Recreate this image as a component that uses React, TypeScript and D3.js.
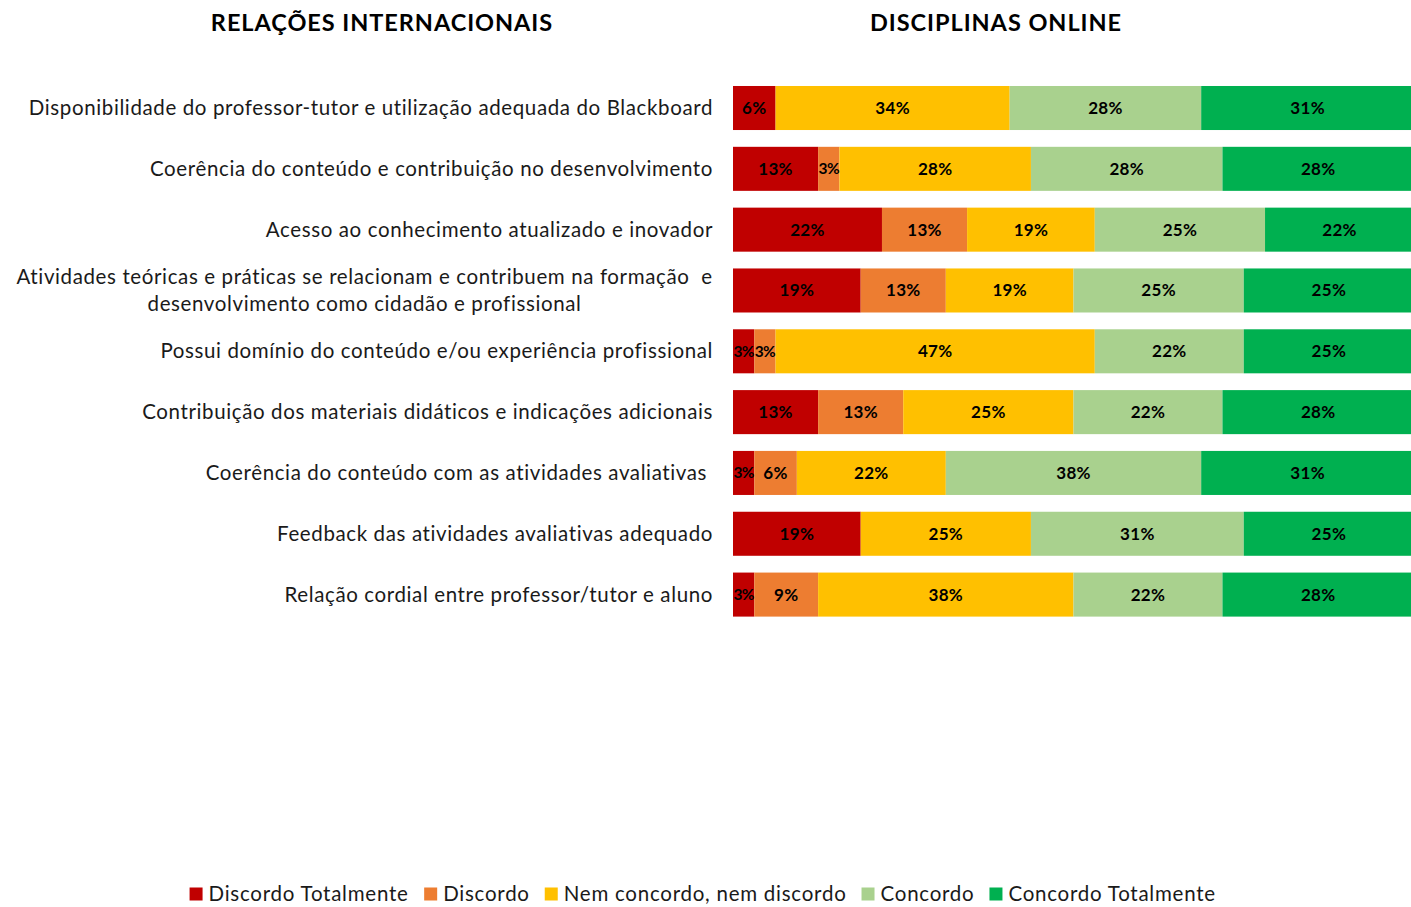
import React from "react";
import * as d3 from "d3";

const categories = [
  "Disponibilidade do professor-tutor e utilização adequada do Blackboard",
  "Coerência do conteúdo e contribuição no desenvolvimento",
  "Acesso ao conhecimento atualizado e inovador",
  "Atividades teóricas e práticas se relacionam e contribuem na formação  e|desenvolvimento como cidadão e profissional",
  "Possui domínio do conteúdo e/ou experiência profissional",
  "Contribuição dos materiais didáticos e indicações adicionais",
  "Coerência do conteúdo com as atividades avaliativas ",
  "Feedback das atividades avaliativas adequado",
  "Relação cordial entre professor/tutor e aluno",
];

const seriesNames = [
  "Discordo Totalmente",
  "Discordo",
  "Nem concordo, nem discordo",
  "Concordo",
  "Concordo Totalmente",
];

const discordoTotalmente = [6.25, 12.5, 21.875, 18.75, 3.125, 12.5, 3.125, 18.75, 3.125];
const discordo = [0, 3.125, 12.5, 12.5, 3.125, 12.5, 6.25, 0, 9.375];
const nemConcordoNemDiscordo = [34.375, 28.125, 18.75, 18.75, 46.875, 25, 21.875, 25, 37.5];
const concordo = [28.125, 28.125, 25, 25, 21.875, 21.875, 37.5, 31.25, 21.875];
const concordoTotalmente = [31.25, 28.125, 21.875, 25, 25, 28.125, 31.25, 25, 28.125];

const colors = ["#C00000", "#ED7D31", "#FFC000", "#A9D18E", "#00B050"];

const W = 1411;
const H = 907;
const FONT = "Lato, 'Open Sans', sans-serif";

let ctx: CanvasRenderingContext2D | null = null;
function measure(text: string, font: string, ls: number): number {
  if (!ctx) ctx = document.createElement("canvas").getContext("2d");
  if (!ctx) return text.length * 9;
  ctx.font = font;
  return ctx.measureText(text).width + ls * text.length;
}

export default function App() {
  const table = categories.map((c, i) => ({
    cat: c,
    [seriesNames[0]]: discordoTotalmente[i],
    [seriesNames[1]]: discordo[i],
    [seriesNames[2]]: nemConcordoNemDiscordo[i],
    [seriesNames[3]]: concordo[i],
    [seriesNames[4]]: concordoTotalmente[i],
  }));
  const stack = d3.stack<any>().keys(seriesNames)(table as any);

  const x = d3.scaleLinear().domain([0, 100]).range([733, 1414]);
  const y = d3
    .scaleBand<string>()
    .domain(categories)
    .range([77.6, 625])
    .paddingInner(0.276)
    .paddingOuter(0.138);
  const bw = y.bandwidth();

  const catFontSize = 20.5;
  const catLS = 0.62;
  const catFont = `${catFontSize}px Lato`;
  const labelRight = 713;

  const legendFontSize = 20.5;
  const legendLS = 0.75;
  const legendFont = `${legendFontSize}px Lato`;
  const sq = 13;
  const sqGap = 6;
  const itemGap = 15;
  const widths = seriesNames.map((n) => sq + sqGap + measure(n, legendFont, legendLS));
  const totalW = d3.sum(widths) + itemGap * (seriesNames.length - 1);
  let lx = 703 - totalW / 2;
  const legendItems = seriesNames.map((n, i) => {
    const item = { name: n, x: lx, color: colors[i] };
    lx += widths[i] + itemGap;
    return item;
  });
  const legendY = 894;

  return (
    <svg
      width={W}
      height={H}
      style={{ position: "absolute", left: 0, top: 0, background: "#fff" }}
      fontFamily={FONT}
    >
      <rect x={0} y={0} width={W} height={H} fill="#fff" />
      <text x={382} y={31} textAnchor="middle" fontWeight="bold" fontSize={23.5} letterSpacing={0.95} fill="#000">
        RELAÇÕES INTERNACIONAIS
      </text>
      <text x={996} y={31} textAnchor="middle" fontWeight="bold" fontSize={23.5} letterSpacing={0.95} fill="#000">
        DISCIPLINAS ONLINE
      </text>

      {categories.map((c) => {
        const lines = c.split("|");
        const cy = (y(c) as number) + bw / 2;
        if (lines.length === 1) {
          return (
            <text
              key={c}
              x={labelRight}
              y={cy}
              dy="0.35em"
              textAnchor="end"
              fontSize={catFontSize}
              letterSpacing={catLS}
              fill="#1a1a1a"
              style={{ whiteSpace: "pre" }}
            >
              {c}
            </text>
          );
        }
        const maxW = d3.max(lines, (l) => measure(l, catFont, catLS)) as number;
        const cx = labelRight - maxW / 2;
        const lh = 27;
        return (
          <g key={c}>
            {lines.map((l, k) => (
              <text
                key={k}
                x={cx}
                y={cy + (k - (lines.length - 1) / 2) * lh}
                dy="0.35em"
                textAnchor="middle"
                fontSize={catFontSize}
                letterSpacing={catLS}
                fill="#1a1a1a"
                style={{ whiteSpace: "pre" }}
              >
                {l}
              </text>
            ))}
          </g>
        );
      })}

      {stack.map((s, si) => (
        <g key={s.key} fill={colors[si]}>
          {s.map((d: any, i: number) => {
            const w = x(d[1]) - x(d[0]);
            if (w <= 0) return null;
            return (
              <rect
                key={i}
                x={x(d[0])}
                y={y(categories[i]) as number}
                width={w}
                height={bw}
              />
            );
          })}
        </g>
      ))}

      {stack.map((s) => (
        <g key={"l" + s.key}>
          {s.map((d: any, i: number) => {
            const v = d[1] - d[0];
            if (v <= 0) return null;
            const small = x(d[1]) - x(d[0]) < 26;
            return (
              <text
                key={i}
                x={(x(d[0]) + x(d[1])) / 2}
                y={(y(categories[i]) as number) + bw / 2}
                dy="0.35em"
                textAnchor="middle"
                fontWeight="bold"
                fontSize={small ? 15.5 : 17}
                letterSpacing={small ? -0.6 : 0.3}
                fill="#000"
              >
                {Math.round(v) + "%"}
              </text>
            );
          })}
        </g>
      ))}

      {legendItems.map((it) => (
        <g key={it.name}>
          <rect x={it.x} y={legendY - sq / 2} width={sq} height={sq} fill={it.color} />
          <text
            x={it.x + sq + sqGap}
            y={legendY}
            dy="0.35em"
            fontSize={legendFontSize}
            letterSpacing={legendLS}
            fill="#1a1a1a"
          >
            {it.name}
          </text>
        </g>
      ))}
    </svg>
  );
}
